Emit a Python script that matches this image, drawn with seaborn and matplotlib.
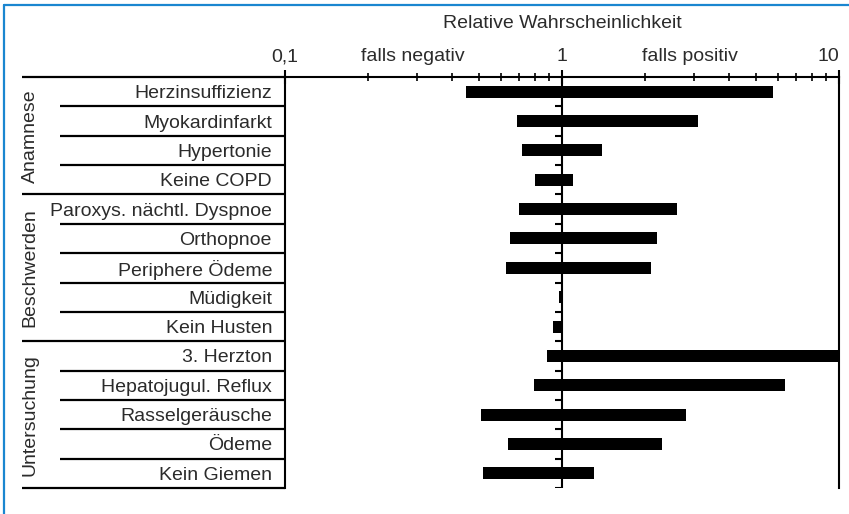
import numpy as np
import pandas as pd
import seaborn as sns
import matplotlib.pyplot as plt
from matplotlib import transforms
from matplotlib.lines import Line2D
from matplotlib.ticker import LogLocator, NullFormatter

# Daten: Likelihood-Quotienten (falls negativ / falls positiv)
groups = ['Anamnese', 'Beschwerden', 'Untersuchung']
group_sizes = [4, 5, 5]
categories = ['Herzinsuffizienz', 'Myokardinfarkt', 'Hypertonie', 'Keine COPD',
              'Paroxys. nächtl. Dyspnoe', 'Orthopnoe', 'Periphere Ödeme', 'Müdigkeit', 'Kein Husten',
              '3. Herzton', 'Hepatojugul. Reflux', 'Rasselgeräusche', 'Ödeme', 'Kein Giemen']
lr_negative = [0.45, 0.69, 0.72, 0.80, 0.70, 0.65, 0.63, 0.975, 0.93, 0.88, 0.79, 0.51, 0.64, 0.52]
lr_positive = [5.8, 3.1, 1.4, 1.1, 2.6, 2.2, 2.1, 1.0, 1.0, 11.0, 6.4, 2.8, 2.3, 1.3]
tick_values = [0.1, 1, 10]
tick_labels = ['0,1', '1', '10']

df = pd.DataFrame({'kategorie': categories, 'neg': lr_negative, 'pos': lr_positive})
df['pos_row'] = np.arange(len(df))

sns.set_theme(style='white')
plt.rcParams['font.family'] = ['Liberation Sans', 'DejaVu Sans']

W, H = 849, 514
TXT = '#2b2b2b'
FS = 14


def fx(px):
    return px / W


def fy(py):
    return 1 - py / H


fig = plt.figure(figsize=(W / 100, H / 100), dpi=100)
fig.patch.set_facecolor('white')

ax = fig.add_axes([fx(285), fy(488), fx(839) - fx(285), fy(77) - fy(488)])
tab = fig.add_axes([fx(22), fy(488), fx(285) - fx(22), fy(77) - fy(488)])

n = len(df)
ylim = (n - 0.5, -0.5)

# Balken im logarithmischen Massstab
ax.set_xscale('log')
ax.barh(df['pos_row'], df['pos'] - df['neg'], left=df['neg'], height=0.41,
        color='black', edgecolor='none', zorder=3)
ax.set_xlim(0.1, 10)
ax.set_ylim(*ylim)
ax.set_yticks([])
ax.set_facecolor('white')

ax.axvline(1, color='black', lw=1.5, zorder=4)
ax.hlines(np.arange(0.5, n), 10 ** (-7 / 277), 1, color='black', lw=1.5, zorder=4)

for side in ['top', 'left', 'right']:
    ax.spines[side].set_visible(True)
    ax.spines[side].set_color('black')
    ax.spines[side].set_linewidth(1.5)
ax.spines['bottom'].set_visible(False)

ax.xaxis.set_ticks_position('top')
ax.set_xticks(tick_values)
ax.set_xticklabels(tick_labels)
ax.xaxis.set_minor_locator(LogLocator(base=10, subs=range(2, 10)))
ax.xaxis.set_minor_formatter(NullFormatter())
ax.tick_params(axis='x', which='major', direction='inout', length=10, width=1.5,
               pad=3.6, labelsize=FS, labelcolor=TXT, color='black')
ax.tick_params(axis='x', which='minor', direction='inout', length=6, width=1.2, color='black')
ax.get_xticklabels()[-1].set_ha('right')

top = transforms.blended_transform_factory(ax.transData, ax.transAxes)
for x, s in [(0.29, 'falls negativ'), (2.9, 'falls positiv')]:
    ax.annotate(s, xy=(x, 1), xycoords=top, xytext=(0, 8.6), textcoords='offset points',
                ha='center', va='bottom', fontsize=FS, color=TXT)
ax.annotate('Relative Wahrscheinlichkeit', xy=(1, 1), xycoords=top, xytext=(0, 35),
            textcoords='offset points', ha='center', va='baseline', fontsize=FS, color=TXT)

# Tabelle links
tab.set_xlim(0, 263)
tab.set_ylim(*ylim)
tab.axis('off')

bounds = np.cumsum([0] + group_sizes) - 0.5
inner = [b + 0.5 for b in range(n - 1) if b + 0.5 not in bounds]
tab.hlines(bounds, 0, 263, color='black', lw=1.6, clip_on=False)
tab.hlines(inner, 38, 263, color='black', lw=1.6, clip_on=False)

for i, cat in enumerate(categories):
    tab.text(250, i, cat, ha='right', va='center_baseline', fontsize=FS, color=TXT)

for g, lo, hi in zip(groups, bounds[:-1], bounds[1:]):
    tab.text(8, (lo + hi) / 2, g, rotation=90, ha='center', va='center',
             fontsize=FS, color=TXT)

# blauer Rahmen
border = '#1a86d0'
fig.add_artist(Line2D([fx(4), fx(4)], [fy(5), 0], transform=fig.transFigure, color=border, lw=1.6))
fig.add_artist(Line2D([fx(4), 1], [fy(5), fy(5)], transform=fig.transFigure, color=border, lw=1.6))

fig.savefig('out.png', dpi=100)
